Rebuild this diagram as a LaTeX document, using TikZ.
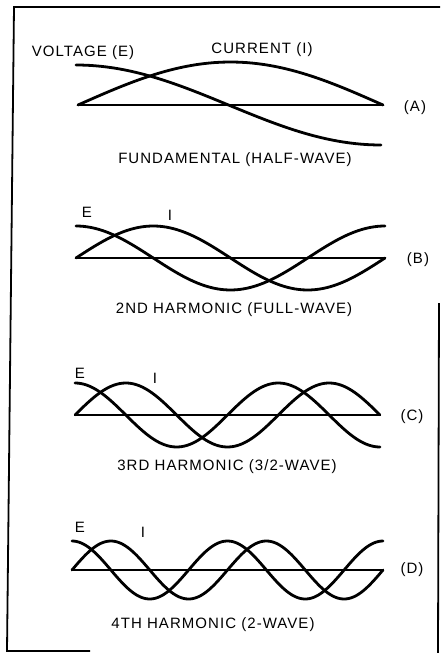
\documentclass[tikz,border=0pt]{standalone}
\usepackage{fontspec}
\setmainfont{Liberation Sans}
\newfontfamily\capfont[LetterSpace=7]{Liberation Sans}

\begin{document}
\begin{tikzpicture}[x=1pt, y=-1pt,
  wave/.style={line width=2.8pt, line cap=round, line join=round},
  axisline/.style={line width=2.2pt, line cap=round},
  frameline/.style={line width=1.8pt},
  lbl/.style={font=\capfont\fontsize{15}{17}\selectfont, inner sep=0pt}]
\useasboundingbox (0,0) rectangle (440,653);

% Frame
\draw[frameline] (440,7) -- (14,7) -- (7,651) -- (90,651);
\draw[frameline] (439,303) -- (438,653);

% (A) fundamental
\draw[axisline] (78,105) -- (383,105);
\draw[wave] plot[domain=0:180, samples=50] ({78+\x/180*305}, {105-43*sin(\x)});
\draw[wave] plot[domain=0:180, samples=50] ({76+\x/180*305}, {105-40*cos(\x)});
\node[lbl] (voltA) at (83,53) {VOLTAGE (E)};
\node[lbl] (currA) at (262,50) {CURRENT (I)};
\node[lbl] (tagA) at (415,108) {(A)};
\node[lbl] (capA) at (235,160) {FUNDAMENTAL (HALF-WAVE)};

% (B) 2nd harmonic
\draw[axisline] (76,258) -- (385,258);
\draw[wave] plot[domain=0:360, samples=80] ({76+\x/360*309}, {258-32*sin(\x)});
\draw[wave] plot[domain=0:360, samples=80] ({76+\x/360*309}, {258-32*cos(\x)});
\node[lbl] (voltB) at (87,212) {E};
\node[lbl] (currB) at (170,215) {I};
\node[lbl] (tagB) at (418,260) {(B)};
\node[lbl] (capB) at (234,310) {2ND HARMONIC (FULL-WAVE)};

% (C) 3rd harmonic
\draw[axisline] (75,415) -- (380,415);
\draw[wave] plot[domain=0:540, samples=110] ({75+\x/540*305}, {415-32*sin(\x)});
\draw[wave] plot[domain=0:540, samples=110] ({75+\x/540*305}, {415-32*cos(\x)});
\node[lbl] (voltC) at (80,373) {E};
\node[lbl] (currC) at (155,378) {I};
\node[lbl] (tagC) at (412,417) {(C)};
\node[lbl] (capC) at (227,467) {3RD HARMONIC (3/2-WAVE)};

% (D) 4th harmonic
\draw[axisline] (72,570) -- (383,570);
\draw[wave] plot[domain=0:720, samples=140] ({72+\x/720*311}, {570-29*sin(\x)});
\draw[wave] plot[domain=0:720, samples=140] ({72+\x/720*311}, {570-29*cos(\x)});
\node[lbl] (voltD) at (80,527) {E};
\node[lbl] (currD) at (143,532) {I};
\node[lbl] (tagD) at (412,570) {(D)};
\node[lbl] (capD) at (213,625) {4TH HARMONIC (2-WAVE)};

\end{tikzpicture}
\end{document}
